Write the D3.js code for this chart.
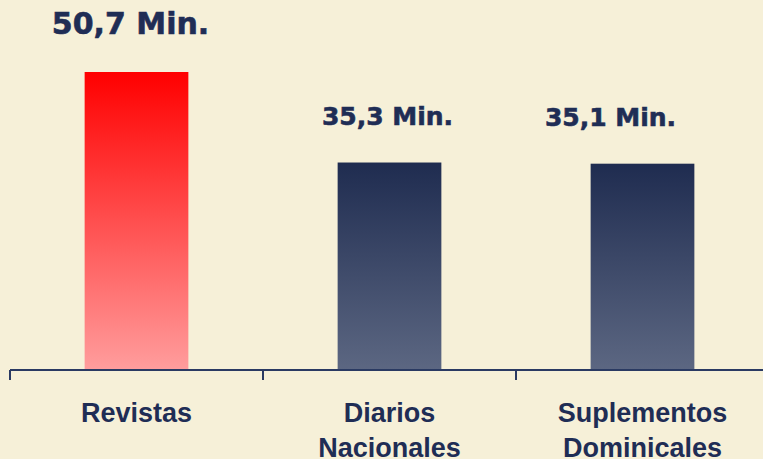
<!DOCTYPE html>
<html lang="es">
<head>
<meta charset="UTF-8">
<title>Tiempo de lectura</title>
<style>
  body { margin: 0; padding: 0; background-color: #f6f0d8; }
  svg { display: block; }
</style>
</head>
<body>
<div id="chart"></div>
<script src="https://cdn.jsdelivr.net/npm/d3@7/dist/d3.min.js"></script>
<script>
const categories = [["Revistas"], ["Diarios", "Nacionales"], ["Suplementos", "Dominicales"]];
const values = [50.7, 35.3, 35.1];
const valueLabels = ["50,7 Min.", "35,3 Min.", "35,1 Min."];

const width = 763, height = 459;
const textColor = "#1f2d55";

const svg = d3.select("#chart").append("svg")
    .attr("width", width)
    .attr("height", height);

svg.append("rect").attr("width", width).attr("height", height).attr("fill", "#f6f0d8");

// gradients: red for the first bar, navy for the rest
const defs = svg.append("defs");
function addGradient(id, top, bottom) {
  const g = defs.append("linearGradient").attr("id", id)
      .attr("x1", 0).attr("y1", 0).attr("x2", 0).attr("y2", 1);
  g.append("stop").attr("offset", "0%").attr("stop-color", top);
  g.append("stop").attr("offset", "100%").attr("stop-color", bottom);
}
addGradient("gradRed", "#ff0000", "#ff9d9d");
addGradient("gradNavy", "#1f2c50", "#5c6782");

const x = d3.scaleBand()
    .domain(d3.range(categories.length))
    .range([10, 769])
    .paddingInner(0.59)
    .paddingOuter(0.295);

const y = d3.scaleLinear()
    .domain([0, 50.7])
    .range([370, 72]);

// bars
svg.selectAll("rect.bar")
  .data(values)
  .enter().append("rect")
    .attr("class", "bar")
    .attr("x", (d, i) => x(i))
    .attr("width", x.bandwidth())
    .attr("y", d => y(d))
    .attr("height", d => y(0) - y(d))
    .attr("fill", (d, i) => i === 0 ? "url(#gradRed)" : "url(#gradNavy)");

// axis line + ticks between categories
const step = x.step();
svg.append("line")
    .attr("x1", 10).attr("x2", width)
    .attr("y1", y(0)).attr("y2", y(0))
    .attr("stroke", "#2a3a62").attr("stroke-width", 2);

svg.selectAll("line.tick")
  .data(d3.range(categories.length + 1))
  .enter().append("line")
    .attr("class", "tick")
    .attr("x1", i => 10 + i * step).attr("x2", i => 10 + i * step)
    .attr("y1", y(0)).attr("y2", y(0) + 10)
    .attr("stroke", "#2a3a62").attr("stroke-width", 2);

// value labels (not quite centred on the bars in the original)
const labelShift = [-6, -2, -32];
svg.selectAll("text.value")
  .data(values)
  .enter().append("text")
    .attr("class", "value")
    .attr("x", (d, i) => x(i) + x.bandwidth() / 2 + labelShift[i])
    .attr("y", d => y(d) - 38)
    .attr("text-anchor", "middle")
    .attr("font-family", "'DejaVu Sans', Verdana, sans-serif")
    .attr("font-weight", "bold")
    .attr("font-size", (d, i) => i === 0 ? "30px" : "25px")
    .attr("fill", textColor)
    .attr("stroke", textColor)
    .attr("stroke-width", 0.6)
    .text((d, i) => valueLabels[i]);

// category labels
const cat = svg.selectAll("text.cat")
  .data(categories)
  .enter().append("text")
    .attr("class", "cat")
    .attr("text-anchor", "middle")
    .attr("font-family", "'Liberation Sans', Arial, sans-serif")
    .attr("font-weight", "bold")
    .attr("font-size", "27px")
    .attr("fill", textColor);

cat.selectAll("tspan")
  .data((d, i) => d.map(t => ({ t, i })))
  .enter().append("tspan")
    .attr("x", d => x(d.i) + x.bandwidth() / 2)
    .attr("y", (d, j) => 422 + j * 35)
    .text(d => d.t);
</script>
</body>
</html>
